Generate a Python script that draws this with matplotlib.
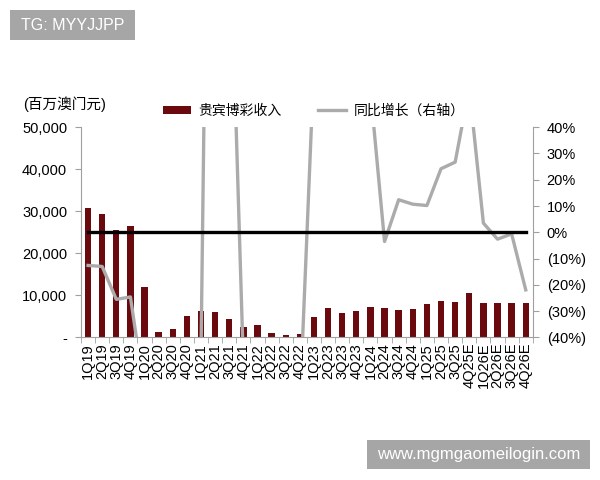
import matplotlib

matplotlib.use("Agg")
import matplotlib.pyplot as plt
import numpy as np
from matplotlib.lines import Line2D
from matplotlib.patches import Patch, Rectangle
from matplotlib.ticker import FuncFormatter

plt.rcParams["font.family"] = ["Liberation Sans", "Noto Sans CJK SC", "DejaVu Sans"]

quarters = [
    "1Q19", "2Q19", "3Q19", "4Q19", "1Q20", "2Q20", "3Q20", "4Q20",
    "1Q21", "2Q21", "3Q21", "4Q21", "1Q22", "2Q22", "3Q22", "4Q22",
    "1Q23", "2Q23", "3Q23", "4Q23", "1Q24", "2Q24", "3Q24", "4Q24",
    "1Q25", "2Q25", "3Q25", "4Q25E", "1Q26E", "2Q26E", "3Q26E", "4Q26E",
]
# VIP gross gaming revenue, MOP mn
vip_revenue = [
    30900, 29300, 25600, 26500, 11900, 1270, 1900, 5200,
    6400, 6100, 4300, 2600, 2900, 1030, 550, 880,
    4760, 7100, 5900, 6200, 7300, 6900, 6600, 6800,
    8000, 8550, 8330, 10600, 8300, 8300, 8300, 8300,
]
# YoY growth, % (values past +-40% run off the chart)
yoy_pct = [
    -12.6, -13.0, -25.5, -24.6, -61, -96, -93, -80,
    -46, 380, 126, -50, -55, -83, -87, -66,
    64, 590, 970, 600, 54, -3.5, 12.4, 10.7,
    10.2, 24.2, 26.7, 55, 3.5, -2.6, -0.6, -21.9,
]
zero_line = [0] * len(quarters)

BAR_COLOR = "#6B0A0E"
LINE_COLOR = "#ABABAB"
AXIS_COLOR = "#A0A0A0"
MARK_GREY = "#A6A6A6"

x = np.arange(len(quarters))

fig = plt.figure(figsize=(6, 4.8), dpi=100)
ax = fig.add_axes([0.135, 0.297, 0.753, 0.438])
ax2 = ax.twinx()

ax.bar(x, vip_revenue, width=0.45, color=BAR_COLOR, zorder=2)
ax2.plot(x, yoy_pct, color=LINE_COLOR, lw=2.4, zorder=3)
ax2.plot(x, zero_line, color="black", lw=2.4, zorder=4)

ax.set_xlim(-0.5, len(quarters) - 0.5)
ax.set_ylim(0, 50000)
ax2.set_ylim(-40, 40)
ax.set_yticks(np.arange(0, 50001, 10000))
ax2.set_yticks(np.arange(-40, 41, 10))

ax.yaxis.set_major_formatter(FuncFormatter(lambda v, p: "-" if v == 0 else f"{int(v):,}"))
ax2.yaxis.set_major_formatter(
    FuncFormatter(lambda v, p: f"({abs(int(v))}%)" if v < 0 else f"{int(v)}%"))

ax.set_xticks(x)
ax.set_xticklabels(quarters, rotation=90, fontsize=10.5)
ax.set_xticks(np.arange(-0.5, len(quarters), 1), minor=True)
ax.tick_params(axis="x", which="major", length=0, pad=4)
ax.tick_params(axis="x", which="minor", length=4, color=AXIS_COLOR, direction="out")
ax.tick_params(axis="y", length=4, color=AXIS_COLOR, labelsize=10.5, pad=6)
ax2.tick_params(axis="y", length=4, color=AXIS_COLOR, labelsize=10.5, pad=6)

for a in (ax, ax2):
    a.spines["top"].set_visible(False)
    for s in ("left", "right", "bottom"):
        a.spines[s].set_color(AXIS_COLOR)
ax.spines["right"].set_visible(False)
ax2.spines["left"].set_visible(False)
ax2.spines["bottom"].set_visible(False)

fig.text(0.039, 0.783, "(百万澳门元)", fontsize=10.5, va="center", ha="left")

handles = [
    Patch(facecolor=BAR_COLOR, edgecolor="none"),
    Line2D([], [], color=LINE_COLOR, lw=2.4),
]
fig.legend(handles, ["贵宾博彩收入", "同比增长（右轴）"], loc="center",
           bbox_to_anchor=(0.523, 0.769), ncol=2, frameon=False, fontsize=10,
           handlelength=2.0, handleheight=0.6, columnspacing=2.6, handletextpad=0.55)

# watermark boxes (pixel coords -> figure fraction)
W, H = 600, 480
for (x0, y0, x1, y1), label in [((10, 10, 135, 40), "TG: MYYJJPP"),
                                 ((367, 440, 590, 469), "www.mgmgaomeilogin.com")]:
    fig.patches.append(Rectangle((x0 / W, 1 - y1 / H), (x1 - x0) / W, (y1 - y0) / H,
                                 transform=fig.transFigure, fc=MARK_GREY, ec="none"))
    fig.text((x0 + x1) / 2 / W, 1 - (y0 + y1) / 2 / H, label, color="white",
             fontsize=11.5 if label.startswith("TG") else 12, ha="center", va="center")

fig.savefig("out.png", dpi=100, facecolor="white")
